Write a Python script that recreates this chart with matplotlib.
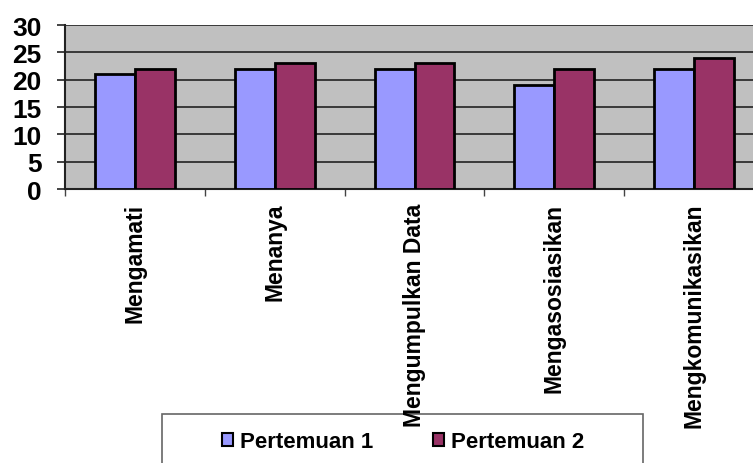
import matplotlib
matplotlib.use("Agg")
import matplotlib.pyplot as plt
from matplotlib.patches import Rectangle, Patch
import numpy as np

categories = ["Mengamati", "Menanya", "Mengumpulkan Data", "Mengasosiasikan", "Mengkomunikasikan"]
pertemuan1 = [21, 22, 22, 19, 22]
pertemuan2 = [22, 23, 23, 22, 24]
series_names = ["Pertemuan 1", "Pertemuan 2"]
yticks = [0, 5, 10, 15, 20, 25, 30]

plt.rcParams['font.family'] = ['Liberation Sans', 'DejaVu Sans']
plt.rcParams['font.weight'] = 'bold'

W, H = 753, 464
fig = plt.figure(figsize=(W/100, H/100), dpi=100)
ax = fig.add_axes([65/W, 1-190/H, 699/W, 164/H])
ax.set_facecolor('#C0C0C0')

x = np.arange(len(categories))
bw = 0.286
c1, c2 = '#9999FF', '#993366'
ax.bar(x - bw/2, pertemuan1, bw, color=c1, edgecolor='black', linewidth=2, zorder=3)
ax.bar(x + bw/2, pertemuan2, bw, color=c2, edgecolor='black', linewidth=2, zorder=3)

ax.set_xlim(-0.5, len(categories) - 0.5)
ax.set_ylim(0, 30)
ax.set_yticks(yticks)
ax.set_yticklabels([str(v) for v in yticks], fontsize=19, fontweight='bold')
ax.yaxis.grid(True, color='#222222', linewidth=1.2, zorder=1)
ax.set_axisbelow(True)

ax.set_xticks(x)
ax.set_xticklabels(categories, rotation=90, fontsize=16.5, fontweight='bold', va='top', ha='center')
ax.tick_params(axis='x', which='major', length=0, pad=10)
ax.set_xticks(np.arange(-0.5, len(categories)), minor=True)
ax.tick_params(axis='x', which='minor', length=5, width=1, color='#444444')
ax.tick_params(axis='y', length=6, width=1.2, pad=11, color='#222222')

for s in ['top', 'right']:
    ax.spines[s].set_visible(False)
ax.spines['left'].set_color('#222222')
ax.spines['left'].set_linewidth(1.5)
ax.spines['bottom'].set_color('#222222')
ax.spines['bottom'].set_linewidth(1.5)

# legend box
lx0, lx1, ly0, ly1 = 162, 643, 415, 472
fig.patches.append(Rectangle((lx0/W, 1-ly1/H), (lx1-lx0)/W, (ly1-ly0)/H,
                             transform=fig.transFigure, facecolor='white',
                             edgecolor='#666666', linewidth=1.2, zorder=-2))
handles = [Patch(facecolor=c1, edgecolor='black', linewidth=1.5),
           Patch(facecolor=c2, edgecolor='black', linewidth=1.5)]
leg = fig.legend(handles, series_names, loc='center', bbox_to_anchor=(403/W, 1-443/H),
                 ncol=2, frameon=False, prop={'weight': 'bold', 'size': 16},
                 handlelength=0.5, handleheight=0.5, handletextpad=0.3, columnspacing=2.7)
leg.set_zorder(-1)

fig.savefig('out.png', dpi=100)
